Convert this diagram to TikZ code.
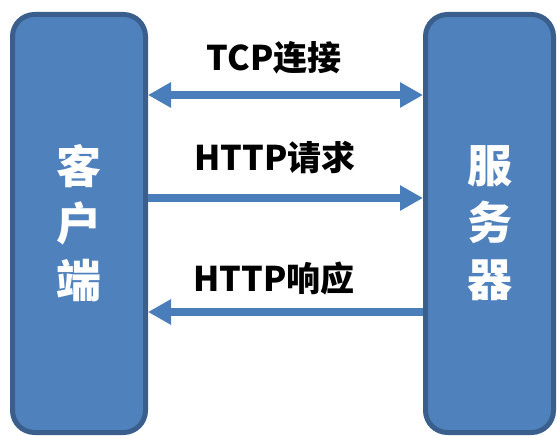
\documentclass[tikz,border=0pt]{standalone}
\usepackage{fontspec}
\setmainfont{Noto Sans CJK SC}
\usetikzlibrary{arrows.meta}
\definecolor{boxfill}{HTML}{4F81BD}
\definecolor{boxline}{HTML}{3A5F8C}
\definecolor{arrowcol}{HTML}{4A7EBB}
\tikzset{
  endbox/.style={draw=boxline, fill=boxfill, line width=5pt, rounded corners=22pt,
    minimum height=418pt, inner sep=0pt, text=white, align=center,
    font=\fontsize{45}{57}\selectfont\bfseries},
  msg/.style={draw=arrowcol, line width=7.5pt, -{Triangle[length=23pt,width=24pt]}},
  msgboth/.style={draw=arrowcol, line width=7.5pt, {Triangle[length=23pt,width=24pt]}-{Triangle[length=23pt,width=24pt]}},
  lbl/.style={font=\fontsize{34}{38}\selectfont\bfseries, text=black, inner sep=0pt}
}
\begin{document}
\begin{tikzpicture}[x=1pt,y=-1pt]
\useasboundingbox (0,0) rectangle (557,436);
\node[endbox, minimum width=133pt] (client) at (79,223.5) {客\\户\\端};
\node[endbox, minimum width=128pt] (server) at (489.5,223.5) {服\\务\\器};
\coordinate (y1) at (0,95);
\coordinate (y2) at (0,198);
\coordinate (y3) at (0,312);
\draw[msgboth] (client.east |- y1) -- (server.west |- y1);
\draw[msg] (client.east |- y2) -- (server.west |- y2);
\draw[msg] (server.west |- y3) -- (client.east |- y3);
\node[lbl] (tcp) at (274,58) {TCP连接};
\node[lbl] (req) at (275,157) {HTTP请求};
\node[lbl] (resp) at (274,279) {HTTP响应};
\end{tikzpicture}
\end{document}
